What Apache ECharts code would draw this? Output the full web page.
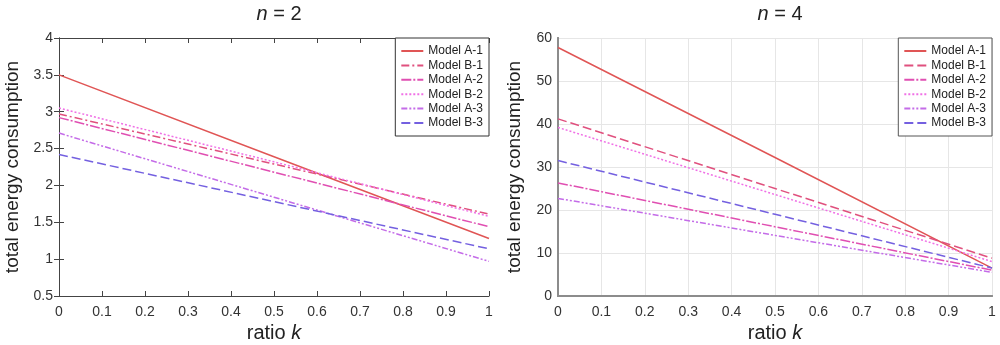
<!DOCTYPE html>
<html><head><meta charset="utf-8">
<script src="https://cdn.jsdelivr.net/npm/echarts@6/dist/echarts.min.js"></script>
<style>
html,body{margin:0;padding:0;background:#fff;}
#wrap{width:1000px;height:345px;position:relative;}
#c1{position:absolute;left:0;top:0;width:500px;height:345px;}
#c2{position:absolute;left:500px;top:0;width:500px;height:345px;}
</style></head>
<body><div id="wrap"><div id="c1"></div><div id="c2"></div></div>
<script>
// ratio k sample points
const kValues = [0, 0.5, 1];
const seriesNames = ['Model A-1', 'Model B-1', 'Model A-2', 'Model B-2', 'Model A-3', 'Model B-3'];
// n = 2
const n2_A1 = [3.50, 2.39, 1.28];
const n2_B1 = [2.97, 2.29, 1.61];
const n2_A2 = [2.92, 2.18, 1.44];
const n2_B2 = [3.05, 2.32, 1.58];
const n2_A3 = [2.71, 1.84, 0.97];
const n2_B3 = [2.42, 1.78, 1.14];
// n = 4
const n4_A1 = [57.8, 32.2, 6.5];
const n4_B1 = [41.2, 25.0, 8.8];
const n4_A2 = [26.3, 16.1, 6.0];
const n4_B2 = [39.2, 23.6, 8.0];
const n4_A3 = [22.7, 14.1, 5.5];
const n4_B3 = [31.5, 19.0, 6.5];
const xTicks = [0, 0.1, 0.2, 0.3, 0.4, 0.5, 0.6, 0.7, 0.8, 0.9, 1];

const colors = ['#e05555', '#e0507e', '#e04fb2', '#f070e6', '#c46ce8', '#7460e0'];
const stylesN2 = ['solid', [8, 3, 2, 3], [10, 2, 2, 2], [2, 2], [6, 2, 2, 2, 2, 2], [9, 4]];
const stylesN4 = ['solid', [9, 4], [10, 2, 2, 2], [2, 2], [6, 2, 2, 2, 2, 2], [9, 4]];
const FONT = 'Liberation Sans, Arial, sans-serif';

function pairs(vals) { return kValues.map((k, i) => [k, vals[i]]); }

function build(el, nLabel, data, styles, yMin, yMax, yInt, grid, boxed) {
  const chart = echarts.init(document.getElementById(el), null, {renderer: 'canvas'});
  const axisLineColor = boxed ? '#444' : '#8c8c8c';
  const axisLineWidth = boxed ? 1 : 2;
  const series = data.map((vals, i) => ({
    name: seriesNames[i], type: 'line', data: pairs(vals), showSymbol: false, symbol: 'none',
    lineStyle: {color: colors[i], width: 1.5, type: styles[i]}, itemStyle: {color: colors[i]},
    xAxisIndex: 0, yAxisIndex: 0, z: 3, silent: true
  }));
  const opt = {
    animation: false,
    textStyle: {fontFamily: FONT},
    title: {
      text: '{i|n} = ' + nLabel, left: grid.left + (500 - grid.left - grid.right) / 2, top: -1, textAlign: 'center',
      textStyle: {fontFamily: FONT, fontSize: 20, fontWeight: 'normal', color: '#222',
        rich: {i: {fontFamily: FONT, fontSize: 20, fontStyle: 'italic', fontWeight: 'normal', color: '#222'}}}
    },
    grid: {left: grid.left, right: grid.right, top: grid.top, bottom: grid.bottom, containLabel: false, outerBoundsMode: 'none'},
    legend: {
      orient: 'vertical', right: grid.right, top: grid.top, data: seriesNames,
      backgroundColor: '#fff', borderColor: boxed ? '#333' : '#555', borderWidth: 1,
      padding: [7, 6, 7, 5], itemGap: 2.4, itemWidth: 22, itemHeight: 12,
      itemStyle: {opacity: 0},
      textStyle: {fontFamily: FONT, fontSize: 12, color: '#222'}, selectedMode: false, z: 10
    },
    xAxis: [{
      type: 'value', min: 0, max: 1, interval: 0.1,
      name: '{r|ratio }{i|k}', nameLocation: 'middle', nameGap: 26,
      nameTextStyle: {rich: {r: {fontFamily: FONT, fontSize: 20, color: '#222'}, i: {fontFamily: FONT, fontSize: 20, fontStyle: 'italic', color: '#222'}}},
      axisLine: {show: true, lineStyle: {color: axisLineColor, width: axisLineWidth}},
      axisTick: {show: boxed, inside: true, length: 5, lineStyle: {color: '#444'}},
      axisLabel: {fontFamily: FONT, fontSize: 14, color: '#333', margin: 9,
        formatter: v => xTicks.includes(Math.round(v * 10) / 10) ? String(Math.round(v * 10) / 10) : ''},
      splitLine: {show: !boxed, lineStyle: {color: '#e6e6e6', width: 1}}
    }, {
      type: 'value', position: 'top', min: 0, max: 1, interval: 0.1,
      axisLine: {show: true, lineStyle: {color: axisLineColor, width: axisLineWidth}},
      axisTick: {show: boxed, inside: true, length: 5, lineStyle: {color: '#444'}},
      axisLabel: {show: false}, splitLine: {show: false}
    }],
    yAxis: [{
      type: 'value', min: yMin, max: yMax, interval: yInt,
      name: 'total energy consumption', nameLocation: 'middle', nameGap: 34,
      nameTextStyle: {fontFamily: FONT, fontSize: 19, color: '#222'},
      axisLine: {show: true, lineStyle: {color: axisLineColor, width: axisLineWidth}},
      axisTick: {show: boxed, inside: true, length: 5, lineStyle: {color: '#444'}},
      axisLabel: {fontFamily: FONT, fontSize: 14, color: '#333', margin: 6},
      splitLine: {show: !boxed, lineStyle: {color: '#e6e6e6', width: 1}}
    }, {
      type: 'value', position: 'right', min: yMin, max: yMax, interval: yInt,
      axisLine: {show: true, lineStyle: {color: axisLineColor, width: axisLineWidth}},
      axisTick: {show: boxed, inside: true, length: 5, lineStyle: {color: '#444'}},
      axisLabel: {show: false}, splitLine: {show: false}
    }],
    series: series
  };
  chart.setOption(opt);
}

build('c1', '2', [n2_A1, n2_B1, n2_A2, n2_B2, n2_A3, n2_B3], stylesN2, 0.5, 4, 0.5,
  {left: 59, right: 11, top: 38, bottom: 49}, true);
build('c2', '4', [n4_A1, n4_B1, n4_A2, n4_B2, n4_A3, n4_B3], stylesN4, 0, 60, 10,
  {left: 58, right: 8, top: 38, bottom: 49}, false);
</script></body></html>
